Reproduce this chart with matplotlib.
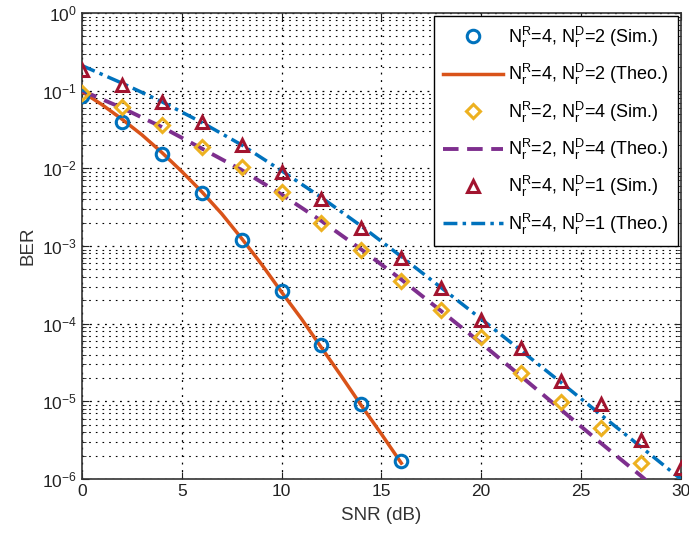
import numpy as np
import matplotlib
matplotlib.use("Agg")
import matplotlib.pyplot as plt
from matplotlib.ticker import LogLocator, NullFormatter

plt.rcParams['font.family'] = ['Liberation Sans', 'DejaVu Sans']
plt.rcParams['mathtext.fontset'] = 'custom'
plt.rcParams['mathtext.rm'] = 'Liberation Sans'
plt.rcParams['mathtext.it'] = 'Liberation Sans'
plt.rcParams['mathtext.bf'] = 'Liberation Sans:bold'

# ---- data ----
snr_a = [0, 2, 4, 6, 8, 10, 12, 14, 16]
ber_a_sim = [0.085, 0.040, 0.0154, 0.0048, 0.0012, 2.6e-4, 5.3e-5, 9.3e-6, 1.7e-6]
snr_a_theo = [0, 1, 2, 3, 4, 5, 6, 7, 8, 9, 10, 11, 12, 13, 14, 15, 16]
ber_a_theo = [0.097, 0.066, 0.043, 0.027, 0.0160, 0.0091, 0.0050, 0.0026, 0.00125,
              5.8e-4, 2.55e-4, 1.15e-4, 4.9e-5, 2.1e-5, 8.8e-6, 3.8e-6, 1.6e-6]

snr_b = [0, 2, 4, 6, 8, 10, 12, 14, 16, 18, 20, 22, 24, 26, 28]
ber_b_sim = [0.093, 0.062, 0.036, 0.019, 0.0104, 0.0050, 0.0020, 8.9e-4, 3.5e-4,
             1.5e-4, 6.8e-5, 2.3e-5, 9.8e-6, 4.6e-6, 1.6e-6]
snr_b_theo = [0, 2, 4, 6, 8, 10, 12, 14, 16, 18, 20, 22, 24, 26, 28, 30]
ber_b_theo = [0.10, 0.060, 0.034, 0.018, 0.0095, 0.0046, 0.0021, 9.0e-4, 3.7e-4,
              1.45e-4, 5.6e-5, 2.1e-5, 7.8e-6, 2.9e-6, 1.1e-6, 4.0e-7]

snr_c = [0, 2, 4, 6, 8, 10, 12, 14, 16, 18, 20, 22, 24, 26, 28, 30]
ber_c_sim = [0.185, 0.118, 0.071, 0.040, 0.020, 0.0090, 0.0040, 0.0017, 7.0e-4,
             2.9e-4, 1.1e-4, 4.9e-5, 1.8e-5, 9.1e-6, 3.2e-6, 1.4e-6]
ber_c_theo = [0.21, 0.125, 0.072, 0.039, 0.020, 0.0093, 0.0042, 0.0018, 7.3e-4,
              2.9e-4, 1.15e-4, 4.5e-5, 1.75e-5, 6.7e-6, 2.6e-6, 1.0e-6]

labels = [r'N$_\mathrm{r}^\mathrm{R}$=4, N$_\mathrm{r}^\mathrm{D}$=2 (Sim.)',
          r'N$_\mathrm{r}^\mathrm{R}$=4, N$_\mathrm{r}^\mathrm{D}$=2 (Theo.)',
          r'N$_\mathrm{r}^\mathrm{R}$=2, N$_\mathrm{r}^\mathrm{D}$=4 (Sim.)',
          r'N$_\mathrm{r}^\mathrm{R}$=2, N$_\mathrm{r}^\mathrm{D}$=4 (Theo.)',
          r'N$_\mathrm{r}^\mathrm{R}$=4, N$_\mathrm{r}^\mathrm{D}$=1 (Sim.)',
          r'N$_\mathrm{r}^\mathrm{R}$=4, N$_\mathrm{r}^\mathrm{D}$=1 (Theo.)']

fig = plt.figure(figsize=(6.89, 5.40), dpi=100)
ax = fig.add_axes([0.119, 0.113, 0.869, 0.863])

c_blue = '#0072BD'
c_orange = '#D95319'
c_yellow = '#EDB120'
c_purple = '#7E2F8E'
c_red = '#A2142F'

mk = dict(linestyle='none', markerfacecolor='none', markeredgewidth=2.2, markersize=9)
ax.plot(snr_a, ber_a_sim, marker='o', color=c_blue, label=labels[0], zorder=4, **mk)
ax.plot(snr_a_theo, ber_a_theo, '-', color=c_orange, lw=2.5, label=labels[1], zorder=3)
ax.plot(snr_b, ber_b_sim, marker='D', color=c_yellow, label=labels[2], zorder=4,
        **{**mk, 'markersize': 7.5})
ax.plot(snr_b_theo, ber_b_theo, '--', color=c_purple, lw=2.8, dashes=(4, 2.2), label=labels[3], zorder=3)
ax.plot(snr_c, ber_c_sim, marker='^', color=c_red, label=labels[4], zorder=4, **mk)
ax.plot(snr_c, ber_c_theo, '-.', color=c_blue, lw=2.5, dashes=(4, 1.5, 1, 1.5), label=labels[5], zorder=3)

ax.set_yscale('log')
ax.set_xlim(0, 30)
ax.set_ylim(1e-6, 1)
ax.set_xticks([0, 5, 10, 15, 20, 25, 30])
ax.yaxis.set_major_locator(LogLocator(base=10, numticks=10))
ax.yaxis.set_minor_locator(LogLocator(base=10, subs=np.arange(2, 10), numticks=20))
ax.yaxis.set_minor_formatter(NullFormatter())

ax.grid(True, which='major', linestyle=(0, (1.5, 4.5)), color='black', linewidth=0.9)
ax.grid(True, which='minor', axis='y', linestyle=(0, (1.5, 4.5)), color='black', linewidth=0.8)

ax.tick_params(which='both', direction='in', top=True, right=True, labelsize=12.5, colors='#222222')
ax.tick_params(which='major', length=5)
ax.tick_params(which='minor', length=3)
for s in ax.spines.values():
    s.set_color('#333333')
    s.set_linewidth(1.2)

ax.set_xlabel('SNR (dB)', fontsize=13.5, color='#333333', labelpad=6)
ax.set_ylabel('BER', fontsize=13.5, color='#333333')

leg = ax.legend(loc='upper right', fontsize=13, handlelength=3.3, framealpha=1,
                fancybox=False, edgecolor='black', borderaxespad=0.15,
                labelspacing=0.68, handletextpad=0.3, borderpad=0.5)
leg.get_frame().set_linewidth(1.0)

fig.savefig('out.png', dpi=100)
